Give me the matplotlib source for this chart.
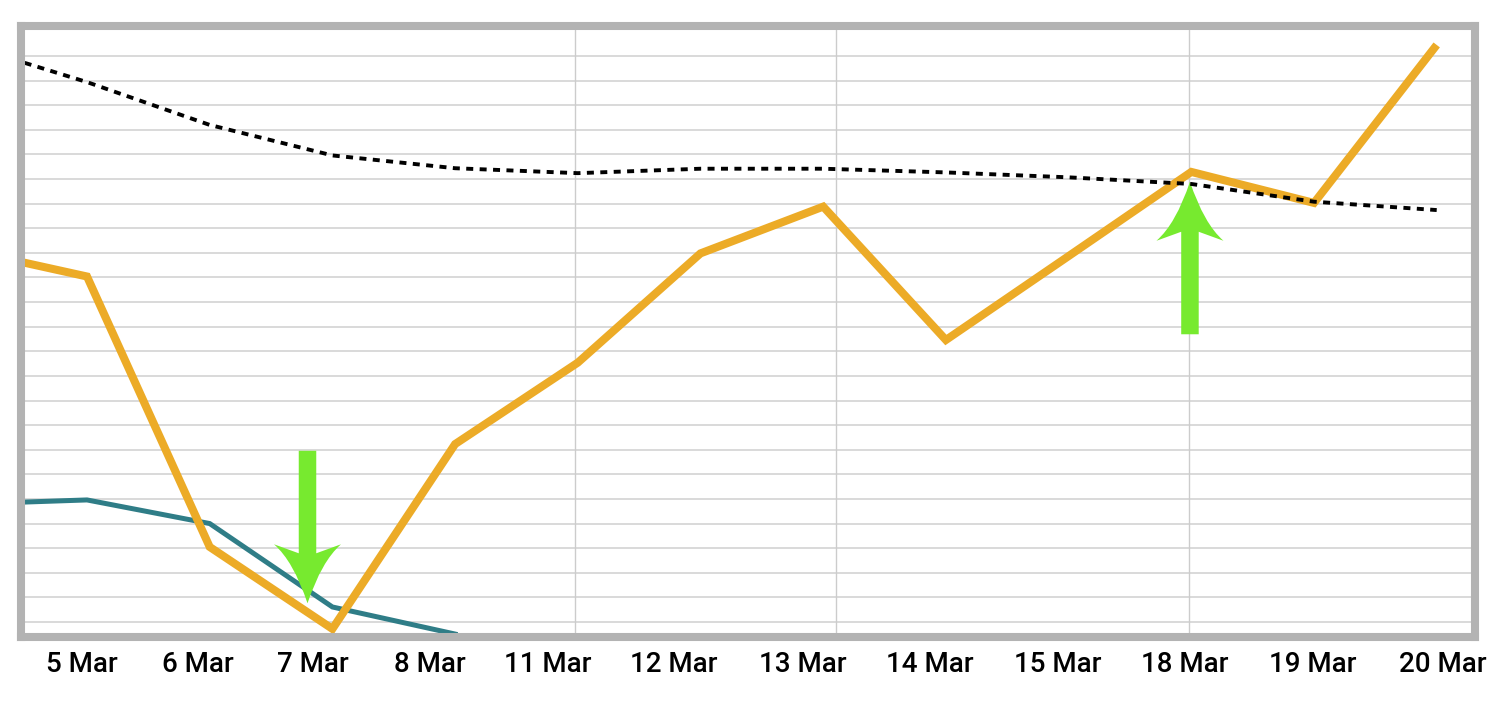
import numpy as np
import matplotlib
matplotlib.use("Agg")
import matplotlib.pyplot as plt
from matplotlib.path import Path
from matplotlib.patches import PathPatch
from matplotlib import transforms

# categories (one trading day before the first label is off the left edge)
days = ["5 Mar", "6 Mar", "7 Mar", "8 Mar", "11 Mar", "12 Mar", "13 Mar",
        "14 Mar", "15 Mar", "18 Mar", "19 Mar", "20 Mar"]
x = np.arange(-1, len(days))

# series values (grid units)
orange_vals = [16.14, 15.04, 4.05, 0.72, 8.23, 11.54, 15.98, 17.88, 12.46,
               15.87, 19.29, 18.03, 24.45]
avg_vals = [24.48, 22.94, 21.20, 19.96, 19.44, 19.24, 19.42, 19.42, 19.27,
            19.07, 18.80, 18.08, 17.74]
teal_vals = [5.79, 5.96, 5.00, 1.61, 0.51]

# label / gridline placement (index units)
tick_pos = [-0.04, 0.905, 1.842, 2.795, 3.757, 4.784, 5.835, 6.870, 7.914,
            8.949, 9.992, 11.051]
vgrid_pos = [3.977, 6.104, 8.981]

# arrow tips (index, value)
arrow_down = (1.797, 1.76)
arrow_up = (8.989, 18.89)

fig = plt.figure(figsize=(14.91, 7.01), dpi=100)
ax = fig.add_axes([21 / 1491, 1 - 637 / 701, (1474.5 - 21) / 1491, (637 - 26) / 701])

ax.set_xlim(-0.538, 11.308)
ax.set_ylim(0.39, 25.22)

for v in range(1, 25):
    ax.axhline(v, color="#d0d0d0", lw=1.1, zorder=1)
for p in vgrid_pos:
    ax.axvline(p, color="#cccccc", lw=1.0, zorder=1)

ax.plot(x[:len(teal_vals)], teal_vals, color="#2f7d87", lw=3.6,
        solid_joinstyle="miter", zorder=2)
ax.plot(x, orange_vals, color="#ecab27", lw=5.8, solid_joinstyle="miter",
        solid_capstyle="butt", zorder=4)
ax.plot(x, avg_vals, color="black", lw=2.8, dashes=(1.8, 1.65), zorder=5)

# green arrows, shape in pixels relative to the tip
verts = [(0, 0), (14, -42), (33.5, -59), (8.75, -50), (8.75, -152.5),
         (-8.75, -152.5), (-8.75, -50), (-33.5, -59), (-14, -42), (0, 0), (0, 0)]
codes = [Path.MOVETO, Path.CURVE3, Path.CURVE3, Path.LINETO, Path.LINETO,
         Path.LINETO, Path.LINETO, Path.LINETO, Path.CURVE3, Path.CURVE3,
         Path.CLOSEPOLY]
arrow_path = Path(verts, codes)
s = fig.dpi / 100
for (ax_x, ax_y), sign in [(arrow_down, -1), (arrow_up, 1)]:
    tr = transforms.Affine2D().scale(s, sign * s) + \
        transforms.ScaledTranslation(ax_x, ax_y, ax.transData)
    ax.add_patch(PathPatch(arrow_path, facecolor="#77ea2f", edgecolor="none",
                           transform=tr, zorder=3))

ax.set_yticks([])
ax.set_xticks(tick_pos)
ax.set_xticklabels(days, fontfamily=["Roboto", "DejaVu Sans"], fontsize=20,
                   fontweight="medium")
ax.tick_params(axis="x", length=0, pad=10)

for sp in ax.spines.values():
    sp.set_color("#b3b3b3")
    sp.set_linewidth(5.8)
    sp.set_zorder(6)

fig.savefig("out.png", dpi=100)
